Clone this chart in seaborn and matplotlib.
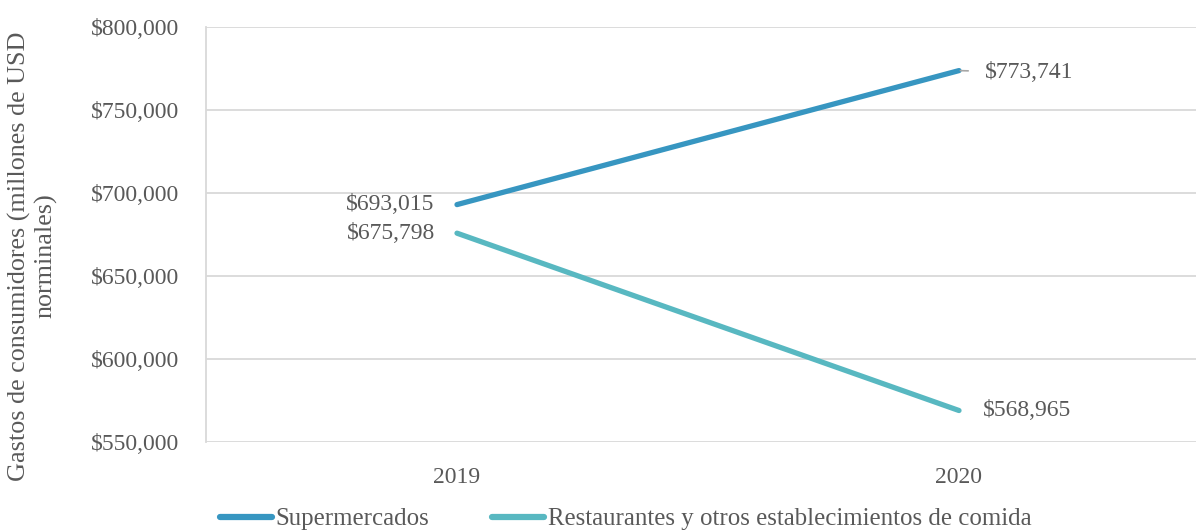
import matplotlib
matplotlib.use("Agg")
import matplotlib.pyplot as plt
import seaborn as sns
import pandas as pd
from matplotlib.ticker import FuncFormatter

years = ["2019", "2020"]
supermercados = [693015, 773741]
restaurantes = [675798, 568965]
series_names = ["Supermercados", "Restaurantes y otros establecimientos de comida"]
y_ticks = [550000, 600000, 650000, 700000, 750000, 800000]
y_label = "Gastos de consumidores (millones de USD\nnorminales)"

colors = ["#3796c1", "#58b8c1"]
text_color = "#595959"

df = pd.DataFrame({
    "year": years * 2,
    "value": supermercados + restaurantes,
    "serie": [series_names[0]] * 2 + [series_names[1]] * 2,
})

sns.set_style("white")
plt.rcParams["font.family"] = ["Liberation Serif", "DejaVu Serif"]

W, H = 1196, 531
fig = plt.figure(figsize=(W / 100, H / 100), dpi=100)
ax = fig.add_axes([206 / W, 1 - 442 / H, 1004 / W, 415 / H])

sns.lineplot(data=df, x="year", y="value", hue="serie", palette=colors,
             linewidth=3.8, ax=ax, legend=False, sort=False,
             solid_capstyle="round")

fs = 17
ax.set_xlim(-0.5, 1.5)
ax.set_ylim(550000, 800000)
ax.set_yticks(y_ticks)
ax.yaxis.set_major_formatter(FuncFormatter(lambda v, p: f"${v:,.0f}"))
ax.grid(axis="y", color="#d9d9d9", linewidth=1.3)
ax.grid(axis="x", visible=False)
for s in ["top", "right", "bottom"]:
    ax.spines[s].set_visible(False)
ax.spines["left"].set_color("#d9d9d9")
ax.spines["left"].set_linewidth(1.3)
ax.tick_params(axis="both", length=0, labelsize=fs, labelcolor=text_color)
ax.tick_params(axis="y", pad=19)
ax.tick_params(axis="x", pad=18)
ax.set_xlabel("")
ax.set_ylabel("")

# data labels
ax.annotate(f"${supermercados[0]:,.0f}", (0, supermercados[0]), xytext=(-16, 0),
            textcoords="offset points", ha="right", va="center", fontsize=fs, color=text_color)
ax.annotate(f"${restaurantes[0]:,.0f}", (0, restaurantes[0]), xytext=(-16, 0),
            textcoords="offset points", ha="right", va="center", fontsize=fs, color=text_color)
ax.annotate(f"${supermercados[1]:,.0f}", (1, supermercados[1]), xytext=(19, -1.5),
            textcoords="offset points", ha="left", va="center", fontsize=fs, color=text_color,
            arrowprops=dict(arrowstyle="-", color="#a6a6a6", lw=1.2, shrinkA=10, shrinkB=1))
ax.annotate(f"${restaurantes[1]:,.0f}", (1, restaurantes[1]), xytext=(17, 0),
            textcoords="offset points", ha="left", va="center", fontsize=fs, color=text_color)

fig.text(33 / W, 1 - 256 / H, y_label, rotation=90, ha="center", va="center",
         multialignment="center", fontsize=18.8, color=text_color, linespacing=1.2)

handles = [plt.Line2D([], [], color=c, linewidth=4.5, solid_capstyle="round") for c in colors]
leg = fig.legend(handles, series_names, loc="center", bbox_to_anchor=(0.523, 1 - 519 / H),
                 ncol=2, frameon=False, fontsize=17.9, handlelength=2.1, handletextpad=0.15,
                 columnspacing=2.5, labelcolor=text_color, borderaxespad=0)

fig.savefig("out.png", dpi=100)
